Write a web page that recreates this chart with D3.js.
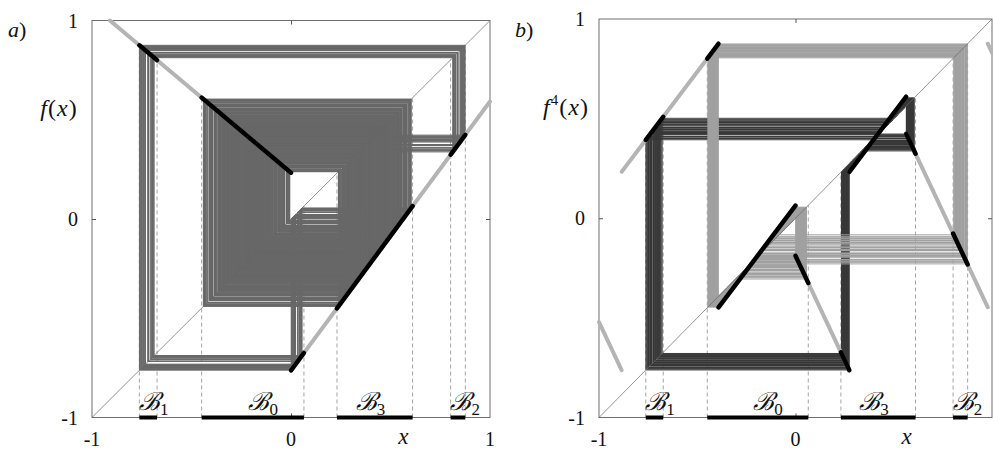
<!DOCTYPE html>
<html>
<head>
<meta charset="utf-8">
<script src="https://cdn.jsdelivr.net/npm/d3@7"></script>
<style>
  body { margin: 0; background: #fff; }
  svg { display: block; }
  text { font-family: "Liberation Serif", "DejaVu Serif", serif; fill: #111; }
</style>
</head>
<body>
<svg id="chart" width="993" height="450"></svg>
<script>
// ---- the map f: two linear branches, each given by its end points (x, f(x)) ----
const leftBranchX  = [-0.91, 0];
const leftBranchY  = [1.0, 0.233];
const rightBranchX = [0, 1];
const rightBranchY = [-0.763, 0.592];

// ---- partition intervals B0..B3 ----
const partitionNames = ["0", "1", "2", "3"];
const partitionLo = [-0.449, -0.762, 0.802, 0.231];
const partitionHi = [ 0.065, -0.673, 0.876, 0.611];

// ---- axis ticks ----
const axisTicks = [-1, 0, 1];
const axisTickLabels = ["-1", "0", "1"];

// ---- orbit used for the cobwebs ----
const orbitStart = -0.72;
const orbitStepsF = 1000;    // iterations of f  (panel a)
const orbitStepsF4 = 650;    // iterations of f^4 (panel b)

// ---- layout ----
const panels = [
  { key: "a", x0: 92,  x1: 490, y0: 20.5, y1: 417.5, power: 1, xTicks: [0, 1, 2] },
  { key: "b", x0: 599, x1: 992, y0: 19,   y1: 417.5, power: 4, xTicks: [0, 1] }
];
const labelAt = [-0.14, -0.69, 0.875, 0.40];   // x position of the B_i labels
const xLabelAt = 0.565;

const leftMap = d3.scaleLinear().domain(leftBranchX).range(leftBranchY);
const rightMap = d3.scaleLinear().domain(rightBranchX).range(rightBranchY);
const f = x => (x < 0 ? leftMap(x) : rightMap(x));
const iterate = (g, n) => x => { for (let i = 0; i < n; i++) x = g(x); return x; };

// orbit of f
const orbit = [orbitStart];
const needed = Math.max(orbitStepsF, 4 * orbitStepsF4 + 2);
for (let i = 0; i < needed; i++) orbit.push(f(orbit[orbit.length - 1]));

// continuous pieces of a graph y = g(x) on [lo, hi], inside the box
function pieces(g, lo, hi) {
  const n = Math.max(2, Math.round((hi - lo) / 0.0004));
  const out = [];
  let cur = [];
  for (let i = 0; i <= n; i++) {
    const x = lo + (hi - lo) * i / n;
    const y = g(x);
    if (y < -1 || y > 1) { if (cur.length > 1) out.push(cur); cur = []; continue; }
    if (cur.length && Math.abs(y - cur[cur.length - 1][1]) > 0.05) {
      if (cur.length > 1) out.push(cur);
      cur = [];
    }
    cur.push([x, y]);
  }
  if (cur.length > 1) out.push(cur);
  return out;
}

// cobweb polyline for a sequence of points x_k with x_{k+1} = g(x_k)
function cobweb(seq) {
  const pts = [[seq[0], seq[0]]];
  for (let k = 0; k + 1 < seq.length; k++) {
    pts.push([seq[k], seq[k + 1]]);
    pts.push([seq[k + 1], seq[k + 1]]);
  }
  return pts;
}

const svg = d3.select("#chart");

panels.forEach(p => {
  const g = iterate(f, p.power);
  const x = d3.scaleLinear().domain([-1, 1]).range([p.x0, p.x1]);
  const y = d3.scaleLinear().domain([-1, 1]).range([p.y1, p.y0]);
  const line = d3.line().x(d => x(d[0])).y(d => y(d[1]));
  const layer = svg.append("g");

  // dashed guides at the interval ends
  const ends = [];
  partitionLo.forEach((lo, i) => { ends.push(lo, partitionHi[i]); });
  layer.append("g").selectAll("line").data(ends).join("line")
    .attr("x1", d => x(d)).attr("x2", d => x(d))
    .attr("y1", y(-1))
    .attr("y2", d => y(Math.max(d, g(d))))
    .attr("stroke", "#9a9a9a").attr("stroke-width", 0.9)
    .attr("stroke-dasharray", "4,3");

  // cobwebs
  if (p.power === 1) {
    layer.append("path")
      .attr("d", line(cobweb(orbit.slice(0, orbitStepsF + 1))))
      .attr("fill", "none").attr("stroke", "#686868").attr("stroke-width", 1);
  } else {
    const phase = (ph) => d3.range(orbitStepsF4 + 1).map(k => orbit[4 * k + ph]);
    layer.append("path")
      .attr("d", line(cobweb(phase(0))))
      .attr("fill", "none").attr("stroke", "#383838").attr("stroke-width", 1);
    layer.append("path")
      .attr("d", line(cobweb(phase(1))))
      .attr("fill", "none").attr("stroke", "#a0a0a0").attr("stroke-width", 1);
  }

  // frame
  layer.append("rect")
    .attr("x", p.x0).attr("y", p.y0)
    .attr("width", p.x1 - p.x0).attr("height", p.y1 - p.y0)
    .attr("fill", "none").attr("stroke", "#6e6e6e").attr("stroke-width", 1);

  // ticks at 0 on all four sides
  const tickLen = 4;
  const axB = layer.append("g").attr("transform", `translate(0,${p.y1})`)
    .call(d3.axisBottom(x).tickValues([0]).tickSize(-tickLen).tickFormat(""));
  const axT = layer.append("g").attr("transform", `translate(0,${p.y0})`)
    .call(d3.axisTop(x).tickValues([0]).tickSize(-tickLen).tickFormat(""));
  const axL = layer.append("g").attr("transform", `translate(${p.x0},0)`)
    .call(d3.axisLeft(y).tickValues([0]).tickSize(-tickLen).tickFormat(""));
  const axR = layer.append("g").attr("transform", `translate(${p.x1},0)`)
    .call(d3.axisRight(y).tickValues([0]).tickSize(-tickLen).tickFormat(""));
  [axB, axT, axL, axR].forEach(a => {
    a.select(".domain").remove();
    a.selectAll("line").attr("stroke", "#555").attr("stroke-width", 1);
  });

  // diagonal
  layer.append("path")
    .attr("d", line([[-1, -1], [1, 1]]))
    .attr("stroke", "#666").attr("stroke-width", 0.7).attr("fill", "none");

  // graph of f or f^4
  layer.append("g").selectAll("path").data(pieces(g, -1, 1)).join("path")
    .attr("d", line).attr("fill", "none")
    .attr("stroke", "#b4b4b4").attr("stroke-width", 4).attr("stroke-linecap", "round");

  // graph over each partition interval
  partitionLo.forEach((lo, i) => {
    layer.append("g").selectAll("path").data(pieces(g, lo, partitionHi[i])).join("path")
      .attr("d", line).attr("fill", "none")
      .attr("stroke", "#000").attr("stroke-width", 4.5).attr("stroke-linecap", "round");
  });

  // intervals on the x axis
  layer.append("g").selectAll("line").data(partitionLo).join("line")
    .attr("x1", d => x(d)).attr("x2", (d, i) => x(partitionHi[i]))
    .attr("y1", y(-1)).attr("y2", y(-1))
    .attr("stroke", "#000").attr("stroke-width", 4);

  // interval labels
  const bl = layer.append("g").selectAll("text").data(partitionNames).join("text")
    .attr("x", (d, i) => x(labelAt[i])).attr("y", y(-1) - 8)
    .attr("text-anchor", "middle")
    .style("font-size", "25px");
  bl.append("tspan").style("font-family", "'DejaVu Serif', serif").style("font-style", "italic").text("\u212C");
  bl.append("tspan").attr("dy", 5).style("font-size", "17px").text(d => d);

  // tick labels
  layer.append("g").selectAll("text").data(p.xTicks).join("text")
    .attr("x", i => x(axisTicks[i])).attr("y", p.y1 + 28)
    .attr("text-anchor", "middle").style("font-size", "20px")
    .text(i => axisTickLabels[i]);
  layer.append("g").selectAll("text").data(axisTicks).join("text")
    .attr("x", p.x0 - 14).attr("y", d => y(d) + 7)
    .attr("text-anchor", "end").style("font-size", "20px")
    .text((d, i) => axisTickLabels[i]);

  // axis titles
  layer.append("text").attr("x", x(xLabelAt)).attr("y", p.y1 + 26)
    .attr("text-anchor", "middle").style("font-size", "23px").style("font-style", "italic")
    .text("x");
  const yt = layer.append("text").attr("x", p.x0 - 33).attr("y", y(0.56) + 8)
    .attr("text-anchor", "middle").style("font-size", "24px").style("letter-spacing", "1px");
  yt.append("tspan").style("font-style", "italic").text("f");
  if (p.power === 4) yt.append("tspan").attr("dy", -10).style("font-size", "15px").text("4");
  yt.append("tspan").attr("dy", p.power === 4 ? 10 : 0).text("(");
  yt.append("tspan").style("font-style", "italic").text("x");
  yt.append("tspan").text(")");

  // panel letter
  const pl = layer.append("text").attr("x", p.x0 - 84).attr("y", 37).style("font-size", "22px");
  pl.append("tspan").style("font-style", "italic").text(p.key);
  pl.append("tspan").text(")");
});
</script>
</body>
</html>
